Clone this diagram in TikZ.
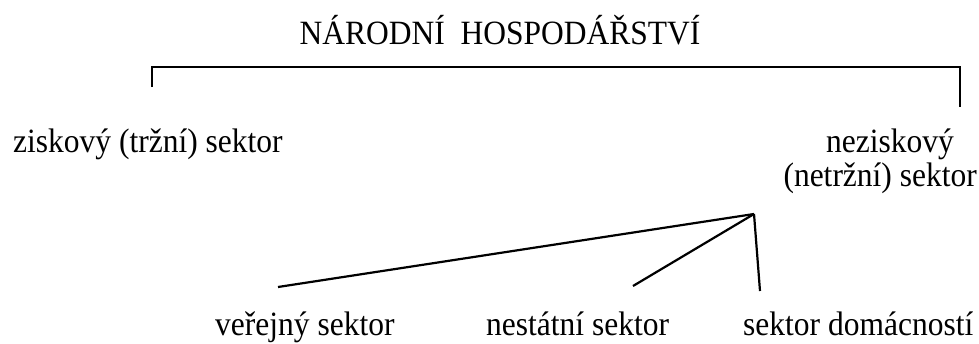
\documentclass[tikz,border=0pt]{standalone}
\usepackage{fontspec}
\setmainfont{Liberation Serif}
\newcommand{\sqz}[1]{\scalebox{1}[1.08]{#1}}
\begin{document}
\begin{tikzpicture}[x=1pt,y=-1pt,
  lbl/.style={inner sep=0pt,font=\fontsize{31.5}{36}\selectfont},
  conn/.style={line width=2.2pt,black}]
\useasboundingbox (0,0) rectangle (979,343);
% title
\node[lbl,anchor=base] (title) at (500,44) {\sqz{NÁRODNÍ\ \ HOSPODÁŘSTVÍ}};
% level 1
\node[lbl,anchor=base west] (zisk) at (13,152) {\sqz{ziskový (tržní) sektor}};
\node[lbl,anchor=base east] (nezisk1) at (954,152) {\sqz{neziskový}};
\node[lbl,anchor=base east] (nezisk2) at (977,186) {\sqz{(netržní) sektor}};
% level 2
\node[lbl,anchor=base west] (verej) at (215,335) {\sqz{veřejný sektor}};
\node[lbl,anchor=base west] (nestat) at (486,335) {\sqz{nestátní sektor}};
\node[lbl,anchor=base west] (domac) at (743,335) {\sqz{sektor domácností}};
% bracket
\coordinate (bl) at (152,87);
\coordinate (br) at (960,107);
\coordinate (bt) at (960,67);
\draw[conn] (bl) |- (bt) -- (br);
% fan
\coordinate (ap) at (754,214);
\coordinate (e1) at (278,287);
\coordinate (e2) at (633,286);
\coordinate (e3) at (760,291);
\draw[conn] (ap) -- (e1);
\draw[conn] (ap) -- (e2);
\draw[conn] (ap) -- (e3);
\end{tikzpicture}
\end{document}
